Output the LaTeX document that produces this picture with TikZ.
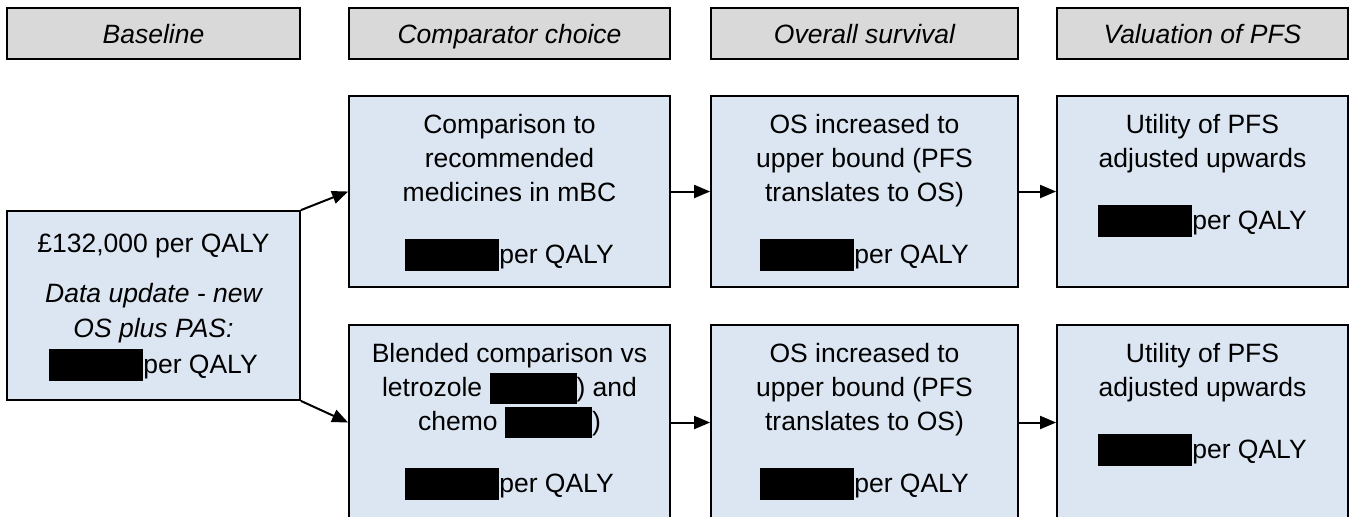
\documentclass[tikz,border=0pt]{standalone}
\usepackage{fontspec}
\setmainfont{Liberation Sans}
\usetikzlibrary{arrows.meta}
\definecolor{hdrgray}{HTML}{D9D9D9}
\definecolor{boxblue}{HTML}{DCE6F2}
\newcommand{\redA}{\rule[-3.75pt]{47pt}{15.75pt}}
\newcommand{\redB}{\rule[-4pt]{43.5pt}{15.5pt}}
\newcommand{\fst}{\rule{0pt}{10pt}}
\begin{document}
\begin{tikzpicture}[x=0.5pt,y=-0.5pt,
 hdr/.style={draw=black, line width=0.9pt, fill=hdrgray, inner sep=0pt, minimum height=25.5pt, text height=9.5pt, text depth=0pt, font=\fontsize{13.25pt}{17pt}\selectfont\itshape},
 blk/.style={draw=black, line width=0.9pt, fill=boxblue, inner sep=0pt},
 txt/.style={inner sep=0pt, align=center, anchor=north, font=\fontsize{13.25pt}{17pt}\selectfont},
 arr/.style={line width=1pt, -{Triangle[length=8pt,width=6.5pt]}}]
\useasboundingbox (0,0) rectangle (1350,516);
\fill[white] (0,0) rectangle (1350,516);
% headers
\node[hdr, minimum width=146.5pt] (h1) at (153.5,33.5) {Baseline};
\node[hdr, minimum width=160.5pt] (h2) at (509.5,33.5) {Comparator choice};
\node[hdr, minimum width=153.5pt] (h3) at (864.5,33.5) {Overall survival};
\node[hdr, minimum width=145.5pt] (h4) at (1202.5,33.5) {Valuation of PFS};
% boxes
\node[blk, minimum width=146.5pt, minimum height=94.5pt] (base) at (153.5,305.5) {};
\node[blk, minimum width=160.5pt, minimum height=95.5pt] (cmp1) at (509.5,191.5) {};
\node[blk, minimum width=153.5pt, minimum height=95.5pt] (os1) at (864.5,191.5) {};
\node[blk, minimum width=145.5pt, minimum height=95.5pt] (val1) at (1202.5,191.5) {};
\node[blk, minimum width=160.5pt, minimum height=97.5pt] (cmp2) at (509.5,422.5) {};
\node[blk, minimum width=153.5pt, minimum height=97.5pt] (os2) at (864.5,422.5) {};
\node[blk, minimum width=145.5pt, minimum height=97.5pt] (val2) at (1202.5,422.5) {};
% texts
\node[txt] (baset) at (153.5,232) {\fst\pounds132,000 per QALY\\[8pt]\itshape Data update - new\\[0.5pt]\itshape OS plus PAS:\\[1pt]\redA per QALY};
\node[txt] (cmp1t) at (509.5,113) {\fst Comparison to\\recommended\\medicines in mBC\\[14pt]\redA per QALY};
\node[txt] (os1t) at (864.5,113) {\fst OS increased to\\upper bound (PFS\\translates to OS)\\[14pt]\redA per QALY};
\node[txt] (val1t) at (1202.5,113) {\fst Utility of PFS\\adjusted upwards\\[14pt]\redA per QALY};
\node[txt] (cmp2t) at (509.5,342) {\fst Blended comparison vs\\letrozole \redB) and\\chemo \redB)\\[14pt]\redA per QALY};
\node[txt] (os2t) at (864.5,342) {\fst OS increased to\\upper bound (PFS\\translates to OS)\\[14pt]\redA per QALY};
\node[txt] (val2t) at (1202.5,342) {\fst Utility of PFS\\adjusted upwards\\[14pt]\redA per QALY};
% arrows
\draw[arr] (base.north east) -- (cmp1.west);
\draw[arr] (base.south east) -- (cmp2.west);
\draw[arr] (cmp1.east) -- (os1.west);
\draw[arr] (os1.east) -- (val1.west);
\draw[arr] (cmp2.east) -- (os2.west);
\draw[arr] (os2.east) -- (val2.west);
\end{tikzpicture}
\end{document}
